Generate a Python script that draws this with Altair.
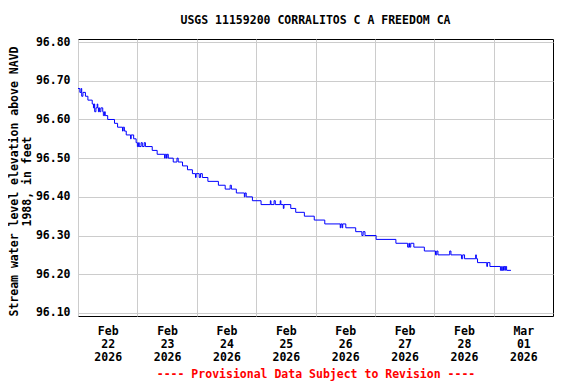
import altair as alt
import pandas as pd

# Hours after 2026-02-22 00:00 (UTC) at which the gage value changes, and the new value (ft)
hours = [0, 0.75, 1.25, 1.5, 2.0, 3.0, 4.0, 5.75, 6.25, 6.5, 6.75, 7.25, 7.75, 8.0, 8.25, 8.5,
         8.75, 9.25, 10.0, 10.25, 10.75, 11.0, 12.0, 14.75, 16.0, 18.0, 18.25, 18.75, 19.5, 21.25,
         21.5, 22.5, 23.5, 24.0, 24.5, 24.75, 25.5, 26.0, 26.75, 27.25, 30.0, 32.0, 35.0, 35.25,
         35.75, 36.0, 36.5, 38.5, 40.0, 40.5, 42.25, 44.25, 46.25, 47.5, 47.75, 49.0, 49.5, 50.25,
         52.5, 56.75, 59.5, 61.5, 62.0, 64.0, 67.25, 67.5, 68.0, 70.5, 74.0, 77.75, 78.0, 79.25,
         79.75, 81.75, 82.0, 83.0, 83.25, 86.0, 88.0, 91.5, 95.5, 99.75, 106.0, 106.25, 106.75,
         107.0, 108.25, 112.25, 114.75, 115.25, 116.0, 120.5, 128.5, 133.25, 133.75, 134.0, 134.5,
         135.75, 140.0, 144.5, 145.0, 145.5, 150.25, 150.75, 155.0, 155.5, 156.25, 160.75, 161.0,
         161.5, 165.25, 165.5, 166.5, 170.75, 171.25, 171.5, 172.0, 172.5, 172.75, 173.25, 175.0]
values = [96.68, 96.67, 96.68, 96.66, 96.67, 96.66, 96.65, 96.64, 96.63, 96.64, 96.62, 96.63,
          96.64, 96.63, 96.62, 96.63, 96.62, 96.63, 96.62, 96.61, 96.62, 96.61, 96.60, 96.59,
          96.58, 96.57, 96.58, 96.57, 96.56, 96.55, 96.56, 96.55, 96.54, 96.53, 96.54, 96.53,
          96.54, 96.53, 96.54, 96.53, 96.52, 96.51, 96.50, 96.51, 96.50, 96.51, 96.50, 96.49,
          96.50, 96.49, 96.48, 96.47, 96.46, 96.45, 96.46, 96.45, 96.46, 96.45, 96.44, 96.43,
          96.42, 96.43, 96.42, 96.41, 96.40, 96.41, 96.40, 96.39, 96.38, 96.39, 96.38, 96.39,
          96.38, 96.39, 96.38, 96.37, 96.38, 96.37, 96.36, 96.35, 96.34, 96.33, 96.32, 96.33,
          96.32, 96.33, 96.32, 96.31, 96.30, 96.31, 96.30, 96.29, 96.28, 96.27, 96.28, 96.27,
          96.28, 96.27, 96.26, 96.25, 96.26, 96.25, 96.26, 96.25, 96.24, 96.25, 96.24, 96.25,
          96.24, 96.23, 96.22, 96.23, 96.22, 96.21, 96.22, 96.21, 96.22, 96.21, 96.22, 96.21,
          96.21]

y_ticks = [96.10, 96.20, 96.30, 96.40, 96.50, 96.60, 96.70, 96.80]
day_ticks = [22, 23, 24, 25, 26, 27, 28]
title_text = "USGS 11159200 CORRALITOS C A FREEDOM CA"
y_title = ["Stream water level elevation above NAVD", "1988, in feet"]
footer = "---- Provisional Data Subject to Revision ----"

start = pd.Timestamp("2026-02-22 00:00:00")
times = [(start + pd.Timedelta(hours=h)).strftime("%Y-%m-%dT%H:%M:%SZ") for h in hours]
df = pd.DataFrame({"time": times, "value": values})

FONT = "DejaVu Sans Mono"
FS = 11.5

x_vals = [alt.DateTime(year=2026, month=2, date=d, utc=True) for d in day_ticks] + \
         [alt.DateTime(year=2026, month=3, date=1, utc=True)]

chart = alt.Chart(df).mark_line(
    interpolate="step-after", color="#0000ff", strokeWidth=1
).encode(
    x=alt.X(
        "time:T",
        scale=alt.Scale(
            type="utc",
            domain=[alt.DateTime(year=2026, month=2, date=22, utc=True),
                    alt.DateTime(year=2026, month=3, date=2, utc=True)],
        ),
        axis=alt.Axis(
            values=x_vals,
            labelExpr="[utcFormat(datum.value, '%b'), utcFormat(datum.value, '%d'), utcFormat(datum.value, '%Y')]",
            labelOffset=29.7,
            labelPadding=9,
            labelLineHeight=13,
            labelOverlap=False,
            labelBound=False,
            labelFlush=False,
            ticks=False,
            domain=False,
            grid=True,
            gridColor="#cccccc",
            gridWidth=1,
            title=footer,
            titleColor="#ff0000",
            titleY=58,
            titleBaseline="middle",
        ),
    ),
    y=alt.Y(
        "value:Q",
        scale=alt.Scale(domain=[96.092, 96.808], nice=False, zero=False),
        axis=alt.Axis(
            values=y_ticks,
            format=".2f",
            ticks=False,
            domain=False,
            labelPadding=8,
            grid=True,
            gridColor="#cccccc",
            gridWidth=1,
            title=y_title,
            titleAngle=270,
            titleX=-64,
            titleY=142,
            titleAlign="center",
            titleBaseline="middle",
            titleLineHeight=13,
        ),
    ),
).properties(
    width=475,
    height=277,
    title=alt.Title(title_text, font=FONT, fontSize=FS, fontWeight="bold",
                    color="#000000", anchor="middle", offset=10),
    autosize=alt.AutoSizeParams(type="none"),
    padding={"left": 70, "top": 31, "right": 14, "bottom": 66},
).configure_view(
    stroke="#000000", strokeWidth=1
).configure_axis(
    labelFont=FONT, labelFontSize=FS, labelFontWeight="bold", labelColor="#000000",
    titleFont=FONT, titleFontSize=FS, titleFontWeight="bold",
)

chart.save("out.html", embed_options={"renderer": "svg", "actions": False})
